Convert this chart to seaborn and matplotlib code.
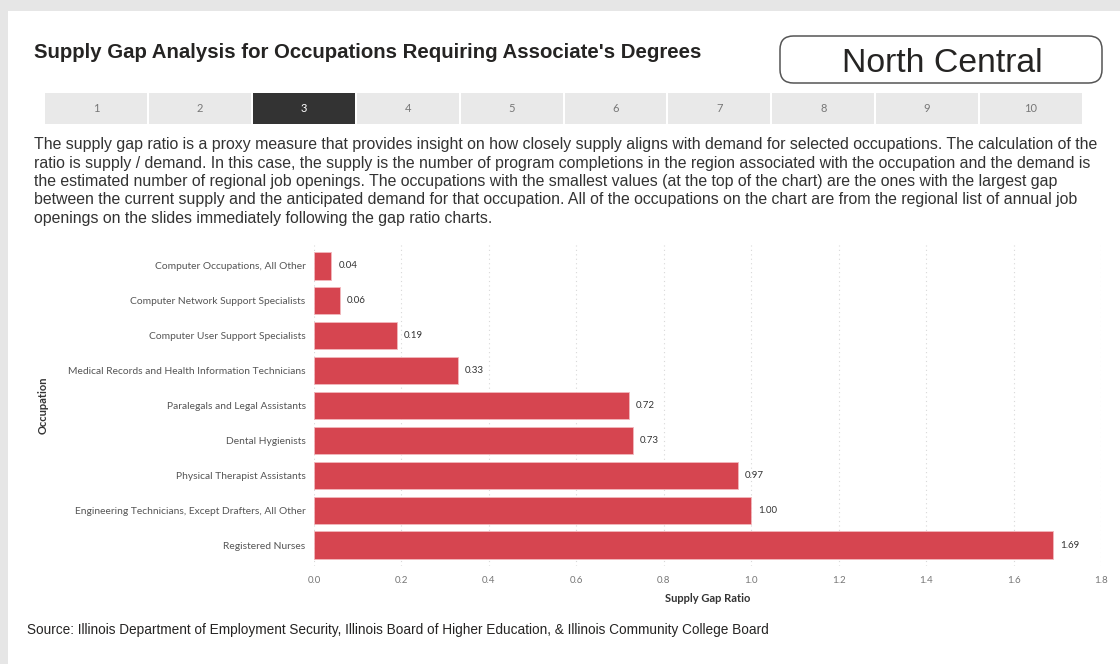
import matplotlib
matplotlib.use("Agg")
import matplotlib.pyplot as plt
from matplotlib.patches import FancyBboxPatch, Rectangle
import seaborn as sns
import pandas as pd

# ---- data ----
occupations = [
    "Computer Occupations, All Other",
    "Computer Network Support Specialists",
    "Computer User Support Specialists",
    "Medical Records and Health Information Technicians",
    "Paralegals and Legal Assistants",
    "Dental Hygienists",
    "Physical Therapist Assistants",
    "Engineering Technicians, Except Drafters, All Other",
    "Registered Nurses",
]
gap_ratio = [0.04, 0.06, 0.19, 0.33, 0.72, 0.73, 0.97, 1.00, 1.69]
x_ticks = [0.0, 0.2, 0.4, 0.6, 0.8, 1.0, 1.2, 1.4, 1.6, 1.8]
page_tabs = ["1", "2", "3", "4", "5", "6", "7", "8", "9", "10"]
active_tab = "3"

title = "Supply Gap Analysis for Occupations Requiring Associate's Degrees"
region = "North Central"
description = [
    "The supply gap ratio is a proxy measure that provides insight on how closely supply aligns with demand for selected occupations. The calculation of the",
    "ratio is supply / demand. In this case, the supply is the number of program completions in the region associated with the occupation and the demand is",
    "the estimated number of regional job openings. The occupations with the smallest values (at the top of the chart) are the ones with the largest gap",
    "between the current supply and the anticipated demand for that occupation. All of the occupations on the chart are from the regional list of annual job",
    "openings on the slides immediately following the gap ratio charts.",
]
source = "Source: Illinois Department of Employment Security, Illinois Board of Higher Education, & Illinois Community College Board"

df = pd.DataFrame({"Occupation": occupations, "Supply Gap Ratio": gap_ratio})

sns.set_theme(style="white")
plt.rcParams["font.family"] = ["Lato", "DejaVu Sans"]

W, H = 1120, 664
fig = plt.figure(figsize=(W / 100, H / 100), dpi=100)
fig.patch.set_facecolor("white")

def fx(px):
    return px / W

def fy(py):
    return 1 - py / H

# page frame
fig.add_artist(Rectangle((0, fy(11)), 1, 11 / H, transform=fig.transFigure,
                         facecolor="#E6E6E6", edgecolor="none"))
fig.add_artist(Rectangle((0, 0), fx(8), 1, transform=fig.transFigure,
                         facecolor="#E6E6E6", edgecolor="none"))

# title
fig.text(fx(34), fy(53), title, fontsize=14.7, fontweight="bold",
         family=["Liberation Sans"], color="#252423", va="center", ha="left")

# region box
fig.add_artist(FancyBboxPatch((fx(780), fy(83)), fx(322), (83 - 36) / H,
                              boxstyle="round,pad=0,rounding_size=0.012",
                              transform=fig.transFigure, facecolor="white",
                              edgecolor="#555555", linewidth=1.1,
                              mutation_aspect=W / H))
fig.text(fx(942), fy(63), region, fontsize=24.3, family=["Liberation Sans"],
         color="#252423", ha="center", va="center")

# page navigation tabs
tab_left, tab_right, tab_top, tab_bot = 44, 1083, 93, 124
tab_w = (tab_right - tab_left) / len(page_tabs)
for i, lab in enumerate(page_tabs):
    x0 = tab_left + i * tab_w
    active = lab == active_tab
    fig.add_artist(Rectangle((fx(x0 + 1), fy(tab_bot)), fx(tab_w - 2),
                             (tab_bot - tab_top) / H, transform=fig.transFigure,
                             facecolor="#333333" if active else "#E9E9E9",
                             edgecolor="none"))
    fig.text(fx(x0 + tab_w / 2), fy((tab_top + tab_bot) / 2), lab, fontsize=8,
             color="white" if active else "#777777", ha="center", va="center")

# description paragraph
for i, line in enumerate(description):
    fig.text(fx(34), fy(145 + i * 18.3), line, fontsize=11.4,
             family=["Liberation Sans"], color="#333333", ha="left", va="center")

# source
fig.text(fx(27), fy(630), source, fontsize=9.8, family=["Liberation Sans"],
         color="#252423", ha="left", va="center")

# bar chart
ax = fig.add_axes([fx(314), fy(566), fx(787), (566 - 245) / H])
sns.barplot(data=df, y="Occupation", x="Supply Gap Ratio", orient="h",
            color="#D64550", saturation=1, width=0.78, ax=ax,
            edgecolor="#F2B8BD", linewidth=0.6)
ax.set_xlim(0, 1.8)
ax.set_ylim(len(occupations) - 0.4, -0.6)
ax.set_xticks(x_ticks)
ax.set_xticklabels([f"{t:.1f}" for t in x_ticks], fontsize=7, color="#777777")
ax.tick_params(axis="y", labelsize=7.35, labelcolor="#555555", length=0, pad=6)
ax.tick_params(axis="x", length=0, pad=7)
ax.xaxis.grid(True, linestyle=(0, (1, 3)), color="#D8D8D8", linewidth=0.8)
ax.set_axisbelow(True)
for s in ax.spines.values():
    s.set_visible(False)
ax.set_xlabel("Supply Gap Ratio", fontsize=8, fontweight="bold",
              color="#333333", labelpad=6)
ax.set_ylabel("Occupation", fontsize=8, fontweight="bold", color="#333333")
ax.yaxis.set_label_coords(-(314 - 49) / 787, 0.5)

for i, v in enumerate(gap_ratio):
    ax.annotate(f"{v:.2f}", xy=(v, i), xytext=(5, 0), textcoords="offset points",
                ha="left", va="center", fontsize=7, color="#333333")

fig.savefig("out.png", dpi=100, facecolor="white")
